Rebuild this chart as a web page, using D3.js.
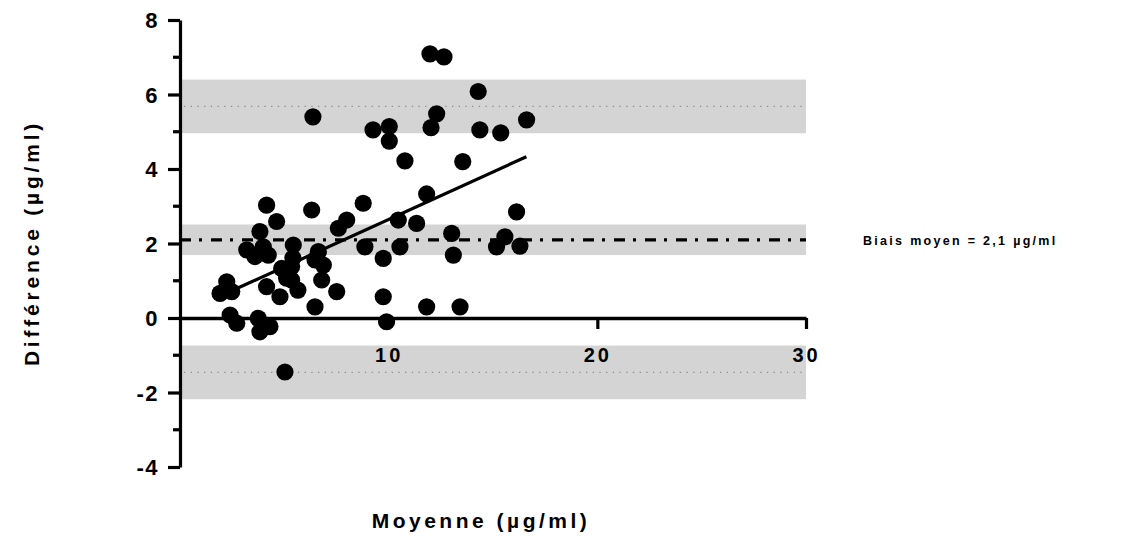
<!DOCTYPE html>
<html>
<head>
<meta charset="utf-8">
<script src="https://cdn.jsdelivr.net/npm/d3@7"></script>
<style>
  html, body { margin: 0; padding: 0; background: #fff; }
  svg text { font-family: "Liberation Sans", Arial, sans-serif; font-weight: bold; fill: #000; }
</style>
</head>
<body>
<svg id="chart" width="1128" height="558"></svg>
<script>
// Bland-Altman points: mean of the two methods (µg/ml) and their difference
const meanValues = [
  1.92, 2.24, 2.48, 2.40, 2.72, 3.75, 3.83, 4.31, 4.15, 4.63,
  3.83, 3.20, 3.59, 3.99, 4.23, 4.15, 4.79, 4.87, 5.35, 5.11,
  5.65, 5.43, 5.41, 5.35, 5.03, 6.31, 6.63, 6.87, 6.79, 6.47,
  7.51, 6.47, 6.37, 7.99, 7.59, 8.78, 8.86, 9.25, 9.74, 9.74,
  9.90, 10.03, 10.03, 10.46, 10.54, 10.78, 11.34, 11.82, 11.82, 11.98,
  12.03, 12.30, 12.65, 13.02, 13.10, 13.42, 13.55, 14.29, 14.37, 15.17,
  15.37, 15.57, 16.13, 16.29, 16.61
];
const diffValues = [
  0.66, 0.97, 0.71, 0.08, -0.14, -0.01, -0.37, -0.23, 3.03, 2.59,
  2.32, 1.83, 1.65, 1.91, 1.69, 0.84, 0.57, 1.33, 1.38, 1.07,
  0.75, 1.96, 1.61, 1.02, -1.45, 2.90, 1.78, 1.42, 1.02, 1.56,
  0.71, 0.30, 5.40, 2.63, 2.41, 3.08, 1.91, 5.05, 1.60, 0.57,
  -0.10, 5.14, 4.75, 2.63, 1.91, 4.22, 2.54, 3.33, 0.30, 7.09,
  5.11, 5.48, 7.01, 2.27, 1.69, 0.30, 4.20, 6.08, 5.05, 1.91,
  4.97, 2.18, 2.85, 1.93, 5.32
];

// Mean bias and limits of agreement, with the confidence band around each
const bias = 2.1;
const limitLines = [5.68, -1.46];
const confidenceBands = [[4.96, 6.40], [1.69, 2.51], [-2.18, -0.74]];

// Linear trend of the differences (end points in data units)
const trendX = [2.8, 16.6];
const trendY = [0.81, 4.33];

// Axis ticks and labels
const xTicks = [10, 20, 30];
const yMajorTicks = [-4, -2, 0, 2, 4, 6, 8];
const yMinorTicks = [-3, -1, 1, 3, 5, 7];
const xTitle = "Moyenne (µg/ml)";
const yTitle = "Différence (µg/ml)";
const biasLabel = "Biais moyen = 2,1 µg/ml";

const svg = d3.select("#chart");
const x = d3.scaleLinear().domain([0, 30]).range([180, 806]);
const y = d3.scaleLinear().domain([-4, 8]).range([467, 20]);

// Confidence bands
svg.append("g").selectAll("rect")
  .data(confidenceBands)
  .join("rect")
  .attr("x", x(0))
  .attr("width", x(30) - x(0))
  .attr("y", d => y(d[1]))
  .attr("height", d => y(d[0]) - y(d[1]))
  .attr("fill", "#d4d4d4");

// Limits of agreement (dotted)
svg.append("g").selectAll("line")
  .data(limitLines)
  .join("line")
  .attr("x1", x(0) + 4).attr("x2", x(30))
  .attr("y1", d => y(d)).attr("y2", d => y(d))
  .attr("stroke", "#8c8c8c")
  .attr("stroke-width", 1.3)
  .attr("stroke-dasharray", "1.3,5.4");

// Mean bias (dash-dot)
svg.append("line")
  .attr("x1", x(0)).attr("x2", x(30))
  .attr("y1", y(bias)).attr("y2", y(bias))
  .attr("stroke", "#000")
  .attr("stroke-width", 3.3)
  .attr("stroke-dasharray", "11,8,3,9");

svg.append("text")
  .attr("x", 863)
  .attr("y", y(bias) + 5)
  .style("font-size", "12.5px")
  .attr("letter-spacing", 2.3)
  .text(biasLabel);

// Points
const points = meanValues.map((m, i) => ({ m, d: diffValues[i] }));
svg.append("g").selectAll("circle")
  .data(points)
  .join("circle")
  .attr("cx", p => x(p.m))
  .attr("cy", p => y(p.d))
  .attr("r", 8.6)
  .attr("fill", "#000");

// Trend line
svg.append("path")
  .datum(trendX.map((v, i) => [v, trendY[i]]))
  .attr("d", d3.line().x(d => x(d[0])).y(d => y(d[1])))
  .attr("stroke", "#000")
  .attr("stroke-width", 3.2)
  .attr("fill", "none");

// Y axis
const yAxis = svg.append("g")
  .attr("transform", `translate(${x(0)},0)`)
  .call(d3.axisLeft(y).tickValues(yMajorTicks).tickSize(12).tickPadding(9).tickSizeOuter(0)
    .tickFormat(d => d));
yAxis.attr("font-size", null).attr("font-family", null);
yAxis.select(".domain").attr("stroke-width", 3.2);
yAxis.selectAll(".tick line").attr("stroke-width", 3.2);
yAxis.selectAll(".tick text")
  .style("font-size", "22px")
  .attr("letter-spacing", 1.5)
  .attr("dy", "0.36em");
yAxis.append("g").selectAll("line")
  .data(yMinorTicks)
  .join("line")
  .attr("x1", -7).attr("x2", 0)
  .attr("y1", d => y(d)).attr("y2", d => y(d))
  .attr("stroke", "#000")
  .attr("stroke-width", 3.2);

// X axis along the zero line
const xAxis = svg.append("g")
  .attr("transform", `translate(0,${y(0)})`)
  .call(d3.axisBottom(x).tickValues(xTicks).tickSize(11).tickPadding(19).tickSizeOuter(0));
xAxis.attr("font-size", null).attr("font-family", null);
xAxis.select(".domain").attr("stroke-width", 3.4);
xAxis.selectAll(".tick line").attr("stroke-width", 3.2);
xAxis.selectAll(".tick text")
  .style("font-size", "20px")
  .attr("letter-spacing", 3);

// Axis titles
svg.append("text")
  .attr("x", 481)
  .attr("y", 528)
  .attr("text-anchor", "middle")
  .style("font-size", "21px")
  .attr("letter-spacing", 3.5)
  .text(xTitle);

svg.append("text")
  .attr("transform", `translate(39,243) rotate(-90)`)
  .attr("text-anchor", "middle")
  .style("font-size", "21px")
  .attr("letter-spacing", 3.8)
  .text(yTitle);
</script>
</body>
</html>
